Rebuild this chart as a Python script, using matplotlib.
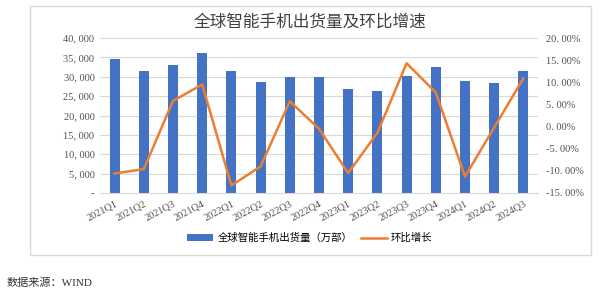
import matplotlib
matplotlib.use('Agg')
import matplotlib.pyplot as plt
import numpy as np
from matplotlib.patches import Rectangle

plt.rcParams['font.family'] = ['Liberation Serif', 'Noto Sans CJK SC', 'DejaVu Sans']

quarters = ['2021Q1', '2021Q2', '2021Q3', '2021Q4', '2022Q1', '2022Q2', '2022Q3', '2022Q4',
            '2023Q1', '2023Q2', '2023Q3', '2023Q4', '2024Q1', '2024Q2', '2024Q3']
shipments = [34580, 31400, 32950, 36200, 31400, 28570, 30020, 29860,
             26760, 26400, 30190, 32520, 28900, 28390, 31480]   # 万部
qoq = [-10.6, -9.6, 5.8, 9.5, -13.3, -9.0, 5.7, -0.5,
       -10.5, -1.4, 14.3, 7.7, -11.3, -0.2, 10.9]              # %

left_ticks = [0, 5000, 10000, 15000, 20000, 25000, 30000, 35000, 40000]
right_ticks = [-15, -10, -5, 0, 5, 10, 15, 20]

fig = plt.figure(figsize=(6, 2.97), dpi=100)

# chart border
fig.patches.append(Rectangle((30/600, 1-255/297), 561/600, 249/297, transform=fig.transFigure,
                             fill=False, edgecolor='#D9D9D9', linewidth=1))

ax = fig.add_axes([100/600, 1-193/297, 438/600, 155/297])
x = np.arange(len(quarters))
bars = ax.bar(x, shipments, width=0.34, color='#4472C4', zorder=2, label='全球智能手机出货量（万部）')
ax.set_ylim(0, 40000)
ax.set_xlim(-0.5, len(quarters)-0.5)
ax.set_yticks(left_ticks)
ax.set_yticklabels(['-'] + ['{:,}'.format(v).replace(',', ', ') for v in left_ticks[1:]], fontsize=7.5, color='#505050')
ax.grid(axis='y', color='#D9D9D9', linewidth=0.8, zorder=0)
ax.set_xticks(x)
ax.set_xticklabels(quarters, rotation=28, ha='right', rotation_mode='anchor', fontsize=7.5, color='#505050')
ax.tick_params(length=0, pad=4)
for s in ['top', 'right', 'left']:
    ax.spines[s].set_visible(False)
ax.spines['bottom'].set_color('#D9D9D9')

ax2 = ax.twinx()
line, = ax2.plot(x, qoq, color='#ED7D31', linewidth=1.8, zorder=3, label='环比增长')
ax2.set_ylim(-15, 20)
ax2.set_yticks(right_ticks)
ax2.set_yticklabels(['{:.2f}%'.format(v).replace('.', '. ') for v in right_ticks], fontsize=7.5, color='#505050')
ax2.tick_params(length=0, pad=6)
for s in ['top', 'right', 'left', 'bottom']:
    ax2.spines[s].set_visible(False)

fig.text(310/600, 1-22/297, '全球智能手机出货量及环比增速', ha='center', va='center',
         fontsize=12, color='#404040', family=['Noto Sans CJK SC'])

fig.legend([bars, line], ['全球智能手机出货量（万部）', '环比增长'], loc='center',
           bbox_to_anchor=(310/600, 1-238/297), ncol=2, frameon=False,
           prop={'family': 'Noto Sans CJK SC', 'size': 7.5}, handlelength=2.5,
           columnspacing=0.8, handletextpad=0.4)

fig.text(7/600, 1-283/297, '数据来源：WIND', ha='left', va='center', fontsize=8, color='#333333')

fig.savefig('out.png', dpi=100)
